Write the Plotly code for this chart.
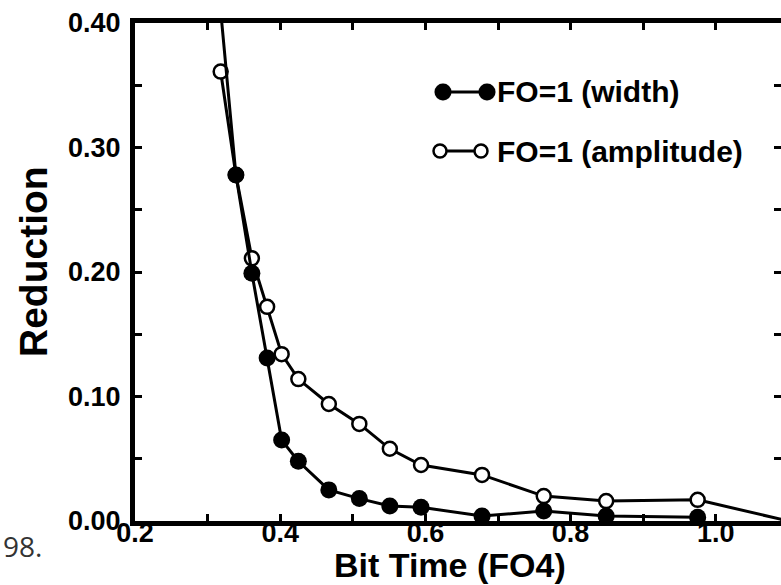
import plotly.graph_objects as go

# ---- data ----
bit_time = [0.318, 0.339, 0.361, 0.382, 0.402, 0.425, 0.467, 0.509,
            0.551, 0.594, 0.678, 0.763, 0.849, 0.975]
width_reduction = [0.410, 0.278, 0.199, 0.131, 0.065, 0.048, 0.025, 0.018,
                   0.012, 0.011, 0.004, 0.008, 0.004, 0.003]
amp_bit_time = bit_time + [1.10]
amp_reduction = [0.361, 0.278, 0.211, 0.172, 0.134, 0.114, 0.094, 0.078,
                 0.058, 0.045, 0.037, 0.020, 0.016, 0.017, 0.000]

series_names = ["FO=1 (width)", "FO=1 (amplitude)"]
x_ticks = [0.2, 0.4, 0.6, 0.8, 1.0]
y_ticks = [0.0, 0.1, 0.2, 0.3, 0.4]

W, H = 781, 585
L, T, B = 135, 23, 64
R = 0
FONT = "Arial, Liberation Sans, sans-serif"

fig = go.Figure()
fig.add_trace(go.Scatter(
    x=amp_bit_time, y=amp_reduction, mode="lines+markers", name=series_names[1],
    line=dict(color="black", width=3),
    marker=dict(symbol="circle", size=14, color="white",
                line=dict(color="black", width=2.5)),
    showlegend=False))
fig.add_trace(go.Scatter(
    x=bit_time, y=width_reduction, mode="lines+markers", name=series_names[0],
    line=dict(color="black", width=3),
    marker=dict(symbol="circle", size=17, color="black"),
    showlegend=False))
# empty trace to activate right-side tick axis
fig.add_trace(go.Scatter(x=[None], y=[None], yaxis="y2", showlegend=False,
                         hoverinfo="skip"))

pw = W - L - R
ph = H - T - B


def px(xp):
    return (xp - L) / pw


def py(yp):
    return (H - B - yp) / ph


# ---- custom legend (glyph: marker - line - marker) ----
shapes = []
annotations = []
rows = [
    dict(y=92, x1=443, x2=487, d=17, fill="black", lw=0, name=series_names[0]),
    dict(y=151, x1=440, x2=481, d=13, fill="white", lw=2.5, name=series_names[1]),
]
for r in rows:
    shapes.append(dict(type="line", xref="paper", yref="paper",
                       x0=px(r["x1"]), x1=px(r["x2"]), y0=py(r["y"]), y1=py(r["y"]),
                       line=dict(color="black", width=3)))
    for cx in (r["x1"], r["x2"]):
        rad = r["d"] / 2
        shapes.append(dict(type="circle", xref="paper", yref="paper",
                           x0=px(cx - rad), x1=px(cx + rad),
                           y0=py(r["y"] + rad), y1=py(r["y"] - rad),
                           fillcolor=r["fill"],
                           line=dict(color="black", width=r["lw"] if r["lw"] else 0.1)))
    annotations.append(dict(text=r["name"], xref="paper", yref="paper",
                            x=px(495), y=py(r["y"]), xanchor="left", yanchor="middle",
                            showarrow=False,
                            font=dict(family=FONT, size=30, color="black", weight="bold")))

# axis titles
annotations.append(dict(text="Bit Time (FO4)", xref="paper", yref="paper",
                        x=px(450), y=py(565), xanchor="center", yanchor="middle",
                        showarrow=False,
                        font=dict(family=FONT, size=34, color="black", weight="bold")))
annotations.append(dict(text="Reduction", xref="paper", yref="paper",
                        x=px(33), y=py(262), xanchor="center", yanchor="middle",
                        textangle=-90, showarrow=False,
                        font=dict(family=FONT, size=39, color="black", weight="bold")))
annotations.append(dict(text="98.", xref="paper", yref="paper",
                        x=px(1), y=py(546), xanchor="left", yanchor="middle",
                        showarrow=False,
                        font=dict(family="Open Sans, sans-serif", size=28, color="#333")))

x_range = [0.2, 0.2 + pw / 726.0]
y_range = [0.0, 0.4]
tick_font = dict(family=FONT, size=27, color="black", weight="bold")

fig.update_layout(
    width=W, height=H,
    margin=dict(l=L, r=R, t=T, b=B, pad=0, autoexpand=False),
    paper_bgcolor="white", plot_bgcolor="white",
    showlegend=False,
    shapes=shapes, annotations=annotations,
    xaxis=dict(range=x_range, tickvals=x_ticks, tickformat=".1f",
               ticks="inside", ticklen=7, tickwidth=2.5, tickcolor="black",
               minor=dict(dtick=0.1, tick0=0.2, ticks="inside", ticklen=7,
                          tickwidth=2.5, tickcolor="black"),
               showline=True, linecolor="black", linewidth=5, mirror="ticks",
               showgrid=False, zeroline=False,
               tickfont=tick_font, ticklabelstandoff=-16, automargin=False),
    yaxis=dict(range=y_range, tickvals=y_ticks, tickformat=".2f",
               ticks="inside", ticklen=7, tickwidth=2.5, tickcolor="black",
               minor=dict(dtick=0.05, tick0=0, ticks="inside", ticklen=7,
                          tickwidth=2.5, tickcolor="black"),
               showline=True, linecolor="black", linewidth=5,
               showgrid=False, zeroline=False,
               tickfont=tick_font, ticklabelstandoff=4, automargin=False),
    yaxis2=dict(range=y_range, overlaying="y", side="right", anchor="x",
                tickvals=y_ticks, showticklabels=False,
                ticks="inside", ticklen=7, tickwidth=2.5, tickcolor="black",
                minor=dict(dtick=0.05, tick0=0, ticks="inside", ticklen=7,
                           tickwidth=2.5, tickcolor="black"),
                showline=False, showgrid=False, zeroline=False),
)

fig.write_html("out.html",
               config={"displayModeBar": False},
               post_script="document.body.style.margin='0px';"
                           "document.body.style.overflow='hidden';")
